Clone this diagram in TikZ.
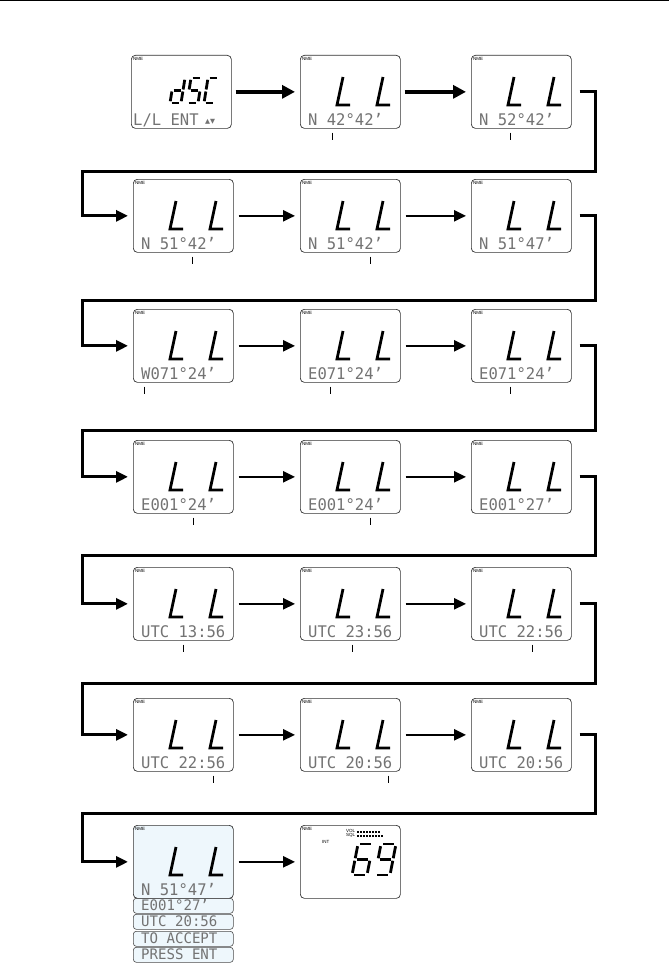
\documentclass[tikz,border=0pt]{standalone}
\usepackage{fontspec}
\usetikzlibrary{arrows.meta}
\newfontfamily\lcdfamily[FakeStretch=0.97]{DejaVu Sans Mono}
\newfontfamily\labfamily{Liberation Sans}
\newfontfamily\symfamily{DejaVu Sans}
\definecolor{lcdtext}{gray}{0.45}
\definecolor{lcdblue}{RGB}{238,247,252}
\tikzset{
  screen/.style={draw=black!80, line width=0.7pt, rounded corners=4pt, minimum width=100pt, minimum height=73pt, inner sep=0pt, anchor=north west, fill=white},
  strip/.style={draw=black!70, line width=0.6pt, rounded corners=3pt, minimum width=100pt, minimum height=15pt, inner sep=0pt, anchor=north west, fill=lcdblue},
  lcd/.style={font=\fontsize{16}{16}\lcdfamily, text=lcdtext, inner sep=0pt, anchor=base west},
  lcdsmall/.style={lcd, font=\fontsize{14.5}{14.5}\lcdfamily},
  nme/.style={font=\fontsize{4.5}{4.5}\selectfont\labfamily, inner sep=0pt, anchor=north west},
  segline/.style={line width=3pt, line cap=butt, line join=miter},
  firstarrow/.style={line width=3.6pt, -{Triangle[length=13pt,width=13pt]}, shorten <=4pt, shorten >=5pt},
  rowarrow/.style={line width=2.5pt, -{Triangle[length=12pt,width=11pt]}, shorten <=5pt, shorten >=5pt},
  loopline/.style={line width=3pt, line join=miter, -{Triangle[length=12pt,width=11pt]}},
  tickmark/.style={line width=0.8pt},
}
\newcommand\segdraw[1]{%
  \if#1a\draw[segline] (0.15,1) -- (0.85,1);\fi
  \if#1b\draw[segline] (1,0.93) -- (1,0.54);\fi
  \if#1c\draw[segline] (1,0.46) -- (1,0.07);\fi
  \if#1d\draw[segline] (0.15,0) -- (0.85,0);\fi
  \if#1e\draw[segline] (0,0.07) -- (0,0.46);\fi
  \if#1f\draw[segline] (0,0.54) -- (0,0.93);\fi
  \if#1g\draw[segline] (0.15,0.5) -- (0.85,0.5);\fi
  \if#1L\draw[segline] (0,1) -- (0,0) -- (1,0);\fi
}
\newcommand\sevseg[7]{% x, y (bottom-left), w, h, slant, line width, segments
  \begin{scope}[shift={(#1,#2)}, x=#3pt, y=#4pt, xslant={#5/#4}, segline/.append style={line width=#6pt}]
    \foreach \sg in {#7}{\segdraw{\sg}}
  \end{scope}}
\newcommand\LL[2]{%
  \sevseg{#1+37}{#2+50}{13}{28}{6}{2.8}{L}%
  \sevseg{#1+77}{#2+50}{13}{28}{6}{2.8}{L}}
\newcommand\lcdscreen[5]{% name, left x, top y, text, fill
  \node[screen, fill=#5] (#1) at (#2,#3) {};
  \node[nme] (#1-n) at ([shift={(2,2)}]#1.north west) {NME};
  \node[lcd] (#1-t) at ([shift={(8,70)}]#1.north west) {#4};}
\newcommand\LLscreen[4]{% name, x, y, text
  \lcdscreen{#1}{#2}{#3}{#4}{white}\LL{#2}{#3}}
\newcommand\tickat[2]{% node, x offset from left
  \draw[tickmark] ([shift={(#2,4)}]#1.south west) -- ++(0,7);}
\begin{document}
\begin{tikzpicture}[x=1pt, y=-1pt]
\useasboundingbox (0,0) rectangle (669,966);
\draw[line width=1pt] (0,1) -- (669,1);

% Row 1
\node[screen] (s11) at (131,55) {};
\node[nme] (s11-n) at ([shift={(2,2)}]s11.north west) {NME};
\node[lcd] (s11-t) at ([shift={(2,70)}]s11.north west) {L/L ENT};
\node[font=\fontsize{6.5}{6.5}\symfamily, text=lcdtext, inner sep=0pt, anchor=base west] (s11-i) at ([shift={(74,68)}]s11.north west) {▲▼};
\sevseg{131+39}{55+48}{11}{25}{4}{2.8}{b,c,d,e,g}
\sevseg{131+56}{55+48}{11}{25}{4}{2.8}{a,f,g,c,d}
\sevseg{131+73}{55+48}{11}{25}{4}{2.8}{a,f,e,d}
\LLscreen{s12}{300}{55}{N 42°42’}
\LLscreen{s13}{471}{55}{N 52°42’}
\tickat{s12}{32}
\tickat{s13}{39}
\draw[firstarrow] (s11) -- (s12);
\draw[firstarrow] (s12) -- (s13);

% Row 2
\LLscreen{s21}{133}{179}{N 51°42’}
\LLscreen{s22}{300}{179}{N 51°42’}
\LLscreen{s23}{471}{179}{N 51°47’}
\tickat{s21}{59}
\tickat{s22}{70}
\draw[rowarrow] (s21) -- (s22);
\draw[rowarrow] (s22) -- (s23);

% Row 3
\LLscreen{s31}{133}{309}{W071°24’}
\LLscreen{s32}{300}{309}{E071°24’}
\LLscreen{s33}{471}{309}{E071°24’}
\tickat{s31}{11}
\tickat{s32}{30}
\tickat{s33}{39}
\draw[rowarrow] (s31) -- (s32);
\draw[rowarrow] (s32) -- (s33);

% Row 4
\LLscreen{s41}{133}{440}{E001°24’}
\LLscreen{s42}{300}{440}{E001°24’}
\LLscreen{s43}{471}{440}{E001°27’}
\tickat{s41}{60}
\tickat{s42}{70}
\draw[rowarrow] (s41) -- (s42);
\draw[rowarrow] (s42) -- (s43);

% Row 5
\LLscreen{s51}{133}{567}{UTC 13:56}
\LLscreen{s52}{300}{567}{UTC 23:56}
\LLscreen{s53}{471}{567}{UTC 22:56}
\tickat{s51}{50}
\tickat{s52}{52}
\tickat{s53}{61}
\draw[rowarrow] (s51) -- (s52);
\draw[rowarrow] (s52) -- (s53);

% Row 6
\LLscreen{s61}{133}{698}{UTC 22:56}
\LLscreen{s62}{300}{698}{UTC 20:56}
\LLscreen{s63}{471}{698}{UTC 20:56}
\tickat{s61}{80}
\tickat{s62}{88}
\draw[rowarrow] (s61) -- (s62);
\draw[rowarrow] (s62) -- (s63);

% Row 7
\node[strip] (st1) at (133,898) {};
\node[strip] (st2) at (133,914) {};
\node[strip] (st3) at (133,931) {};
\node[strip] (st4) at (133,947) {};
\node[lcdsmall] (st1-t) at ([shift={(8,12.8)}]st1.north west) {E001°27’};
\node[lcdsmall] (st2-t) at ([shift={(8,12.8)}]st2.north west) {UTC 20:56};
\node[lcdsmall] (st3-t) at ([shift={(8,12.8)}]st3.north west) {TO ACCEPT};
\node[lcdsmall] (st4-t) at ([shift={(8,12.8)}]st4.north west) {PRESS ENT};
\lcdscreen{s71}{133}{825}{N 51°47’}{lcdblue}
\LL{133}{825}
\node[screen] (s72) at (300,825) {};
\node[nme] (s72-n) at ([shift={(2,2)}]s72.north west) {NME};
\node[nme] (s72-v) at ([shift={(46,4)}]s72.north west) {VOL};
\node[nme] (s72-q) at ([shift={(46,8.5)}]s72.north west) {SQL};
\node[nme] (s72-i) at ([shift={(22,15)}]s72.north west) {INT};
\draw[line width=2pt, dash pattern=on 2pt off 1pt] ([shift={(57,6.5)}]s72.north west) -- ++(23,0);
\draw[line width=2pt, dash pattern=on 2pt off 1pt] ([shift={(57,11)}]s72.north west) -- ++(26,0);
\sevseg{300+52}{825+50}{15}{31}{6}{2.8}{a,f,g,e,c,d}
\sevseg{300+75}{825+50}{15}{31}{6}{2.8}{a,b,c,d,f,g}
\draw[rowarrow] (s71) -- (s72);

% Loops between rows
\coordinate (r1) at (595,171); \coordinate (l1) at (82,171);
\coordinate (r2) at (595,300); \coordinate (l2) at (82,300);
\coordinate (r3) at (595,430); \coordinate (l3) at (82,430);
\coordinate (r4) at (595,555); \coordinate (l4) at (82,555);
\coordinate (r5) at (595,683); \coordinate (l5) at (82,683);
\coordinate (r6) at (595,813); \coordinate (l6) at (82,813);
\draw[loopline] ([xshift=8pt]s13.east) -| (r1) -- (l1) |- ([xshift=-5pt]s21.west);
\draw[loopline] ([xshift=8pt]s23.east) -| (r2) -- (l2) |- ([xshift=-5pt]s31.west);
\draw[loopline] ([xshift=8pt]s33.east) -| (r3) -- (l3) |- ([xshift=-5pt]s41.west);
\draw[loopline] ([xshift=8pt]s43.east) -| (r4) -- (l4) |- ([xshift=-5pt]s51.west);
\draw[loopline] ([xshift=8pt]s53.east) -| (r5) -- (l5) |- ([xshift=-5pt]s61.west);
\draw[loopline] ([xshift=8pt]s63.east) -| (r6) -- (l6) |- ([xshift=-5pt]s71.west);
\end{tikzpicture}
\end{document}
